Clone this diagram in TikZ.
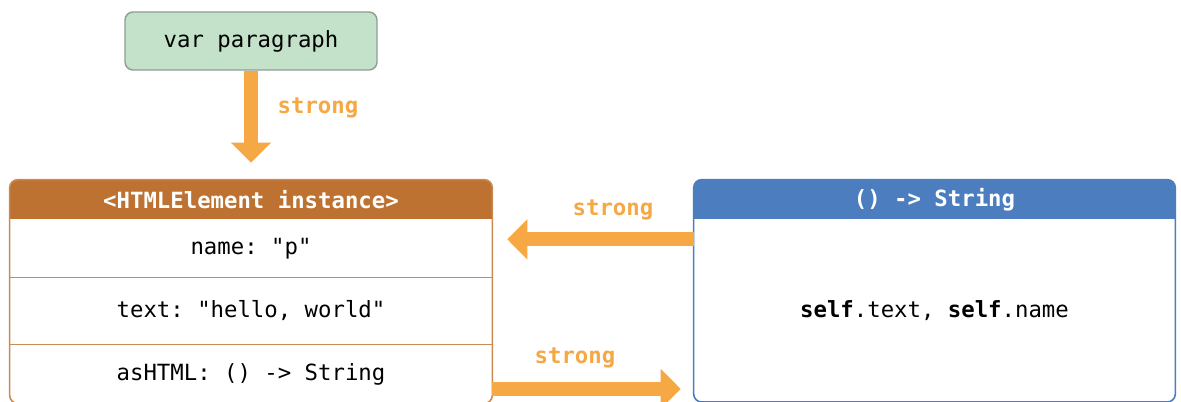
\documentclass[tikz,border=0pt]{standalone}
\usepackage{fontspec}
\setmonofont{DejaVu Sans Mono}
\usetikzlibrary{arrows.meta,positioning,backgrounds}

\definecolor{paragreen}{HTML}{C3E2C9}
\definecolor{paraedge}{HTML}{8E9E92}
\definecolor{elembrown}{HTML}{BE7232}
\definecolor{elemedge}{HTML}{C98B52}
\definecolor{fnblue}{HTML}{4C7DBF}
\definecolor{strongorange}{HTML}{F5A843}

\tikzset{
  mono/.style={font=\ttfamily\fontsize{12.7}{15}\selectfont},
  monobold/.style={font=\ttfamily\bfseries\fontsize{12.7}{15}\selectfont},
  strongarrow/.style={draw=strongorange, line width=0.28cm,
    -{Triangle[width=0.78cm,length=0.4cm]}},
  stronglabel/.style={monobold, text=strongorange},
  elemrow/.style={mono, minimum width=9.64cm, inner sep=0pt},
  fnrow/.style={mono, minimum width=9.62cm, inner sep=0pt},
}

\begin{document}
\begin{tikzpicture}[x=0.02cm, y=-0.02cm]
\useasboundingbox (0,0) rectangle (1181,402);

% variable
\node[draw=paraedge, fill=paragreen, line width=0.8pt, rounded corners=0.16cm,
  minimum width=5.04cm, minimum height=1.16cm, mono] (para) at (251,41) {var paragraph};

% HTMLElement instance
\node[elemrow, monobold, text=white, minimum height=0.78cm] (elemhdr) at (251,199.5) {<HTMLElement instance>};
\node[elemrow, minimum height=1.14cm, below=0pt of elemhdr] (name) {name: "p"};
\node[elemrow, minimum height=1.34cm, below=0pt of name] (text) {text: "hello, world"};
\node[elemrow, minimum height=1.16cm, below=0pt of text] (ashtml) {asHTML: () -> String};

% closure
\node[fnrow, monobold, text=white, minimum height=0.78cm] (fnhdr) at (934.5,199.5) {() -> String};
\node[fnrow, minimum height=3.64cm, below=0pt of fnhdr] (fnbody) {\textbf{self}.text, \textbf{self}.name};

\begin{scope}[on background layer]
  \fill[white] (0,0) rectangle (1181,402);
  \begin{scope}
    \clip[rounded corners=0.16cm] (elemhdr.north west) rectangle (ashtml.south east);
    \fill[elembrown] (elemhdr.north west) rectangle (elemhdr.south east);
  \end{scope}
  \begin{scope}
    \clip[rounded corners=0.16cm] (fnhdr.north west) rectangle (fnbody.south east);
    \fill[fnblue] (fnhdr.north west) rectangle (fnhdr.south east);
  \end{scope}
\end{scope}

\draw[elemedge, line width=0.6pt] (name.south west) -- (name.south east);
\draw[elemedge, line width=0.6pt] (text.south west) -- (text.south east);
\draw[elemedge, line width=0.9pt, rounded corners=0.16cm] (elemhdr.north west) rectangle (ashtml.south east);
\draw[fnblue, line width=0.9pt, rounded corners=0.16cm] (fnhdr.north west) rectangle (fnbody.south east);

% references
\draw[strongarrow] (para.south) -- ([yshift=0.34cm]elemhdr.north);
\node[stronglabel] (lblpara) at (318,108) {strong};

\coordinate (fnout) at ([yshift=-0.4cm]fnbody.north west);
\path (fnout -| name.east) coordinate (elemin);
\draw[strongarrow] (fnout) -- ([xshift=0.3cm]elemin);
\node[stronglabel] (lblfn) at (613,210) {strong};

\coordinate (elemout) at ([yshift=0.29cm]ashtml.south east);
\path (elemout -| fnbody.west) coordinate (fnin);
\draw[strongarrow] (elemout) -- ([xshift=-0.26cm]fnin);
\node[stronglabel] (lblelem) at (575,358) {strong};

\end{tikzpicture}
\end{document}
